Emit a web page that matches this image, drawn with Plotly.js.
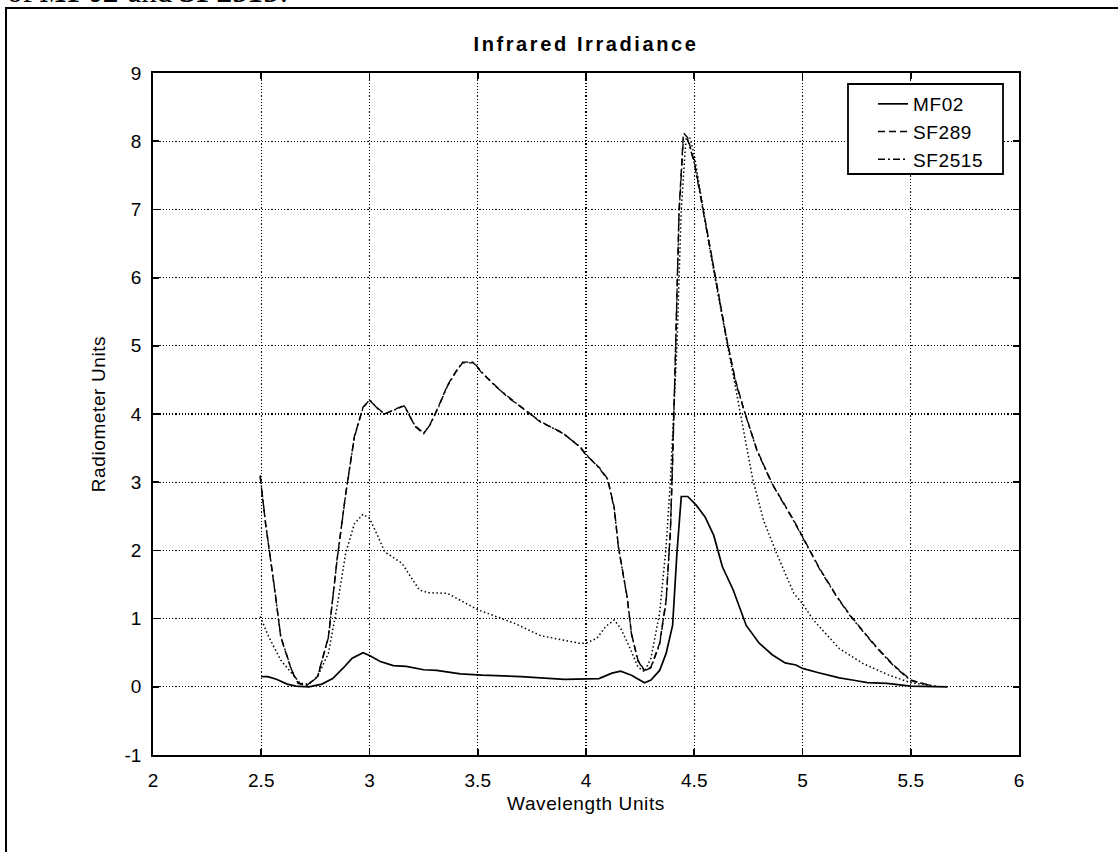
<!DOCTYPE html>
<html><head><meta charset="utf-8">
<script src="https://cdn.plot.ly/plotly-3.0.1.min.js"></script>
<style>
html,body{margin:0;padding:0;background:#fff;}
#chart{width:1118px;height:852px;}
.gtitle{letter-spacing:2.6px;}
.xtitle,.ytitle,.legendtext{letter-spacing:0.6px;}
</style></head><body><div id="chart"></div>
<script>
// Wavelength (x) and radiometer readings (y)
const mf02X = [2.50,2.53,2.57,2.62,2.66,2.72,2.78,2.83,2.88,2.92,2.97,3.00,3.05,3.11,3.17,3.25,3.31,3.42,3.52,3.70,3.90,4.06,4.12,4.16,4.21,4.25,4.27,4.30,4.34,4.37,4.40,4.42,4.44,4.47,4.51,4.55,4.59,4.63,4.68,4.74,4.80,4.86,4.92,4.97,5.00,5.07,5.17,5.23,5.30,5.39,5.50,5.67];
const mf02Y = [0.15,0.15,0.11,0.04,0.01,0.00,0.04,0.12,0.28,0.42,0.50,0.46,0.37,0.31,0.30,0.25,0.24,0.19,0.17,0.15,0.11,0.12,0.20,0.23,0.17,0.09,0.06,0.10,0.24,0.49,0.90,1.96,2.79,2.79,2.66,2.49,2.22,1.76,1.42,0.90,0.64,0.47,0.35,0.32,0.27,0.21,0.13,0.10,0.06,0.05,0.01,0.00];

const sf289X = [2.495,2.52,2.56,2.59,2.64,2.67,2.71,2.76,2.81,2.85,2.89,2.93,2.97,3.00,3.04,3.07,3.16,3.21,3.25,3.28,3.32,3.36,3.40,3.43,3.48,3.52,3.58,3.64,3.72,3.79,3.89,3.97,4.00,4.06,4.10,4.13,4.15,4.19,4.21,4.24,4.27,4.30,4.34,4.37,4.39,4.40,4.41,4.43,4.45,4.47,4.50,4.53,4.57,4.61,4.65,4.69,4.73,4.79,4.86,4.96,5.00,5.08,5.16,5.22,5.29,5.34,5.42,5.50,5.59];
const sf289Y = [3.08,2.39,1.47,0.73,0.24,0.05,0.02,0.15,0.73,1.86,2.83,3.67,4.10,4.20,4.08,4.00,4.13,3.82,3.71,3.85,4.12,4.42,4.63,4.75,4.75,4.60,4.42,4.24,4.06,3.88,3.73,3.52,3.40,3.22,3.05,2.64,2.05,1.32,0.78,0.39,0.24,0.29,0.64,1.27,2.30,3.27,4.50,7.00,8.12,8.05,7.70,7.20,6.50,5.80,5.10,4.50,4.06,3.47,2.98,2.44,2.20,1.73,1.32,1.05,0.78,0.59,0.32,0.10,0.02];

const sf2515X = [2.495,2.52,2.56,2.59,2.64,2.67,2.71,2.76,2.81,2.85,2.89,2.93,2.97,3.00,3.04,3.07,3.16,3.21,3.25,3.28,3.32,3.36,3.40,3.43,3.48,3.52,3.58,3.64,3.72,3.79,3.89,3.97,4.00,4.06,4.10,4.13,4.15,4.19,4.21,4.24,4.27,4.30,4.34,4.37,4.39,4.40,4.41,4.43,4.45,4.47,4.50,4.53,4.57,4.61,4.65,4.69,4.73,4.79,4.86,4.96,5.00,5.08,5.16,5.22,5.29,5.34,5.42,5.50,5.59];
const sf2515Y = [3.10,2.40,1.48,0.74,0.25,0.06,0.02,0.14,0.72,1.85,2.82,3.66,4.09,4.21,4.07,4.00,4.12,3.83,3.72,3.84,4.11,4.41,4.62,4.76,4.76,4.61,4.41,4.25,4.05,3.89,3.72,3.53,3.41,3.21,3.04,2.62,2.04,1.31,0.77,0.38,0.23,0.28,0.62,1.25,2.28,3.25,4.45,6.95,8.05,8.02,7.68,7.18,6.48,5.78,5.08,4.48,4.05,3.46,2.97,2.43,2.19,1.72,1.31,1.04,0.77,0.58,0.31,0.09,0.02];

const dotX = [2.495,2.535,2.59,2.64,2.68,2.72,2.76,2.81,2.85,2.89,2.93,2.97,3.00,3.04,3.07,3.15,3.23,3.27,3.36,3.50,3.67,3.79,3.97,4.00,4.05,4.09,4.13,4.16,4.20,4.24,4.27,4.30,4.34,4.37,4.39,4.42,4.44,4.46,4.48,4.50,4.53,4.57,4.61,4.65,4.69,4.73,4.77,4.82,4.88,4.96,5.00,5.05,5.17,5.28,5.40,5.50,5.62];
const dotY = [1.03,0.73,0.39,0.20,0.05,0.04,0.15,0.49,1.17,1.96,2.39,2.53,2.47,2.20,1.98,1.81,1.42,1.38,1.37,1.13,0.93,0.75,0.64,0.64,0.71,0.88,0.98,0.86,0.59,0.29,0.22,0.42,1.08,2.05,3.03,5.00,7.00,7.95,8.05,7.80,7.20,6.45,5.75,5.05,4.40,3.72,3.05,2.44,1.96,1.37,1.22,0.98,0.56,0.34,0.17,0.06,0.01];

const seriesNames = ['MF02','SF289','SF2515'];
const xTicks = [2,2.5,3,3.5,4,4.5,5,5.5,6];
const xTickText = ['2','2.5','3','3.5','4','4.5','5','5.5','6'];
const yTicks = [-1,0,1,2,3,4,5,6,7,8,9];
const yTickText = ['-1','0','1','2','3','4','5','6','7','8','9'];
const chartTitle = 'Infrared Irradiance';
const xTitle = 'Wavelength Units';
const yTitle = 'Radiometer Units';
const captionText = 'of <b><i>MF02</i></b> and <b><i>SF2515</i></b>.';

const FONT = 'Liberation Sans, Arial, sans-serif';

const traces = [
  {x: mf02X, y: mf02Y, name: seriesNames[0], mode: 'lines',
   line: {color: '#000', width: 1.7}},
  {x: sf289X, y: sf289Y, name: seriesNames[1], mode: 'lines',
   line: {color: '#000', width: 1.4, dash: '7px,4px'}},
  {x: sf2515X, y: sf2515Y, name: seriesNames[2], mode: 'lines',
   line: {color: '#000', width: 1.4, dash: '7px,3px,2px,3px'}},
  {x: dotX, y: dotY, name: 'dotted', mode: 'lines', showlegend: false,
   line: {color: '#000', width: 1.5, dash: '1.5px,2.5px'}}
];

const L = 153, R = 1019, T = 73, B = 755, W = 1118, H = 852;
const px = v => (v - L) / (R - L);
const py = v => (B - v) / (B - T);

const axisCommon = {
  showline: true, linecolor: '#000', linewidth: 1.8, mirror: 'ticks',
  ticks: 'inside', ticklen: 6, tickwidth: 1.8, tickcolor: '#000',
  showgrid: true, gridcolor: '#000', gridwidth: 1.2, griddash: '1.2px,2px',
  zeroline: false, automargin: false,
  tickfont: {family: FONT, size: 19, color: '#000'}
};

const layout = {
  width: W, height: H,
  margin: {l: L, r: W - R, t: T, b: H - B, pad: 0},
  paper_bgcolor: '#fff', plot_bgcolor: '#fff',
  showlegend: true,
  title: {text: chartTitle, x: 0.5, xref: 'paper', y: 1 - 44 / H, yref: 'container', yanchor: 'middle',
          font: {family: FONT, size: 20, weight: 700, color: '#000'}},
  xaxis: Object.assign({}, axisCommon, {
    range: [2, 6], tickvals: xTicks, ticktext: xTickText, ticklabelstandoff: 7,
    title: {text: xTitle, font: {family: FONT, size: 19, color: '#000'}, standoff: 7}
  }),
  yaxis: Object.assign({}, axisCommon, {
    range: [-1, 9], tickvals: yTicks, ticktext: yTickText, ticklabelstandoff: 6,
    title: {text: yTitle, font: {family: FONT, size: 19, color: '#000'}, standoff: 14}
  }),
  legend: {x: px(873), y: py(85), xanchor: 'left', yanchor: 'top',
           bgcolor: 'rgba(0,0,0,0)', borderwidth: 0,
           font: {family: FONT, size: 19, color: '#000'}},
  shapes: [
    {type: 'rect', xref: 'paper', yref: 'paper', layer: 'above',
     x0: px(848), x1: px(1003), y0: py(174), y1: py(84),
     line: {color: '#000', width: 1.8}, fillcolor: '#fff'},
    {type: 'rect', xref: 'paper', yref: 'paper', layer: 'above',
     x0: px(6), x1: px(1125), y0: py(860), y1: py(8),
     line: {color: '#000', width: 2}, fillcolor: 'rgba(0,0,0,0)'}
  ],
  annotations: [
    {text: captionText, xref: 'paper', yref: 'paper', x: px(5), y: py(11),
     xanchor: 'left', yanchor: 'bottom', showarrow: false,
     font: {family: 'Liberation Serif, Times New Roman, serif', size: 31, color: '#000'}}
  ]
};

Plotly.newPlot('chart', traces, layout, {displayModeBar: false, staticPlot: true});
</script></body></html>
